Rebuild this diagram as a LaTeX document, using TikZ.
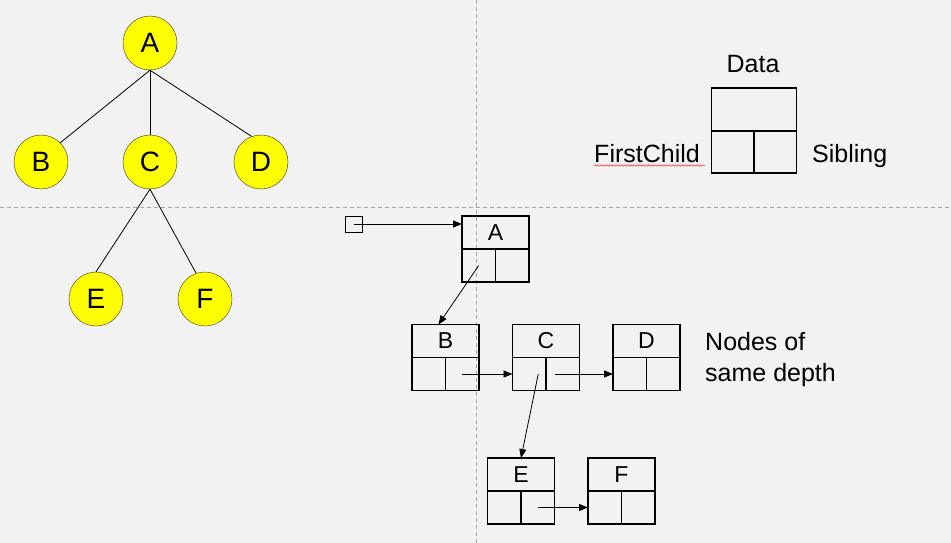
\documentclass[tikz,border=0pt]{standalone}
\usepackage{fontspec}
\setmainfont{Liberation Sans}
\usetikzlibrary{arrows.meta,decorations.pathmorphing}

\definecolor{bgray}{HTML}{F2F2F2}
\definecolor{dgray}{HTML}{A6A6A6}
\definecolor{nodeyellow}{HTML}{FFFF00}

\tikzset{
  treenode/.style={circle,draw=black!80,fill=nodeyellow,minimum size=54pt,inner sep=0pt,
    font=\fontsize{28}{28}\selectfont},
  datacell/.style={draw,line width=1.2pt,minimum width=67pt,minimum height=33pt,inner sep=0pt,
    outer sep=0pt,font=\fontsize{23}{23}\selectfont},
  ptrcell/.style={draw,line width=1.2pt,minimum width=33.5pt,minimum height=33pt,inner sep=0pt,
    outer sep=0pt},
  ptr/.style={-{Triangle[length=9pt,width=7pt]},line width=0.8pt},
  label/.style={font=\fontsize{25}{31}\selectfont,inner sep=0pt}
}

\begin{document}
\begin{tikzpicture}[x=1pt,y=-1pt]
  \fill[bgray] (0,0) rectangle (951,543);
  \useasboundingbox (0,0) rectangle (951,543);

  % quarters
  \begin{scope}[dgray,line width=0.8pt,dash pattern=on 4pt off 3pt]
  \draw (0,207) -- (951,207);
  \draw (476,0) -- (476,543);
  \end{scope}

  % the tree
  \node[treenode] (A) at (150,43) {A};
  \node[treenode] (B) at (41,162) {B};
  \node[treenode] (C) at (150,162) {C};
  \node[treenode] (D) at (261,162) {D};
  \node[treenode] (E) at (96,299) {E};
  \node[treenode] (F) at (205,299) {F};
  \begin{scope}[line width=0.8pt]
  \draw (A.south) -- (B.45);
  \draw (A.south) -- (C.north);
  \draw (A.south) -- (D.110);
  \draw (C.south) -- (E.north);
  \draw (C.south) -- (F.109);
  \end{scope}

  % legend
  \node[datacell,minimum width=85pt,minimum height=43pt] (leg) at (754,109.5) {};
  \node[ptrcell,minimum width=42.5pt,minimum height=42pt,anchor=north west] (leg-fc) at (leg.south west) {};
  \node[ptrcell,minimum width=42.5pt,minimum height=42pt,anchor=north east] (leg-sb) at (leg.south east) {};
  \node[label,anchor=base] (data) at (753,73) {Data};
  \node[label,anchor=base east] (fclabel) at (700,162) {FirstChild};
  \node[label,anchor=base west] (sblabel) at (812,162) {Sibling};
  \draw[red!80,line width=0.5pt,decorate,decoration={snake,amplitude=0.8pt,segment length=3pt}]
    (fclabel.south west) ++(0,3) -- ++(111,0);

  % first child / next sibling
  \foreach \n/\x/\y in {A/495.5/232.5, B/445.5/341, C/546/341, D/646.5/341, E/521/474.5, F/621.5/474.5} {
    \node[datacell] (l\n) at (\x,\y) {\n};
    \node[ptrcell,anchor=north west] (l\n-fc) at (l\n.south west) {};
    \node[ptrcell,anchor=north east] (l\n-sb) at (l\n.south east) {};
  }
  \node[draw,line width=1pt,minimum width=17pt,minimum height=16pt,inner sep=0pt,outer sep=0pt] (head) at (354,224) {};

  \draw[ptr] (head.center) -- (head.center -| lA.west);
  \draw[ptr] (lA-fc.center) -- ([xshift=-7pt]lB.north);
  \draw[ptr] (lB-sb.center) -- (lB-sb.center -| lC.west);
  \draw[ptr] ([xshift=-8pt]lC-sb.center) -- (lC-sb.center -| lD.west);
  \draw[ptr] ([xshift=9pt]lC-fc.center) -- (lE.north);
  \draw[ptr] (lE-sb.center) -- (lE-sb.center -| lF.west);

  \node[label,align=left,anchor=west] (depth) at (705,360) {Nodes of\\same depth};
\end{tikzpicture}
\end{document}
